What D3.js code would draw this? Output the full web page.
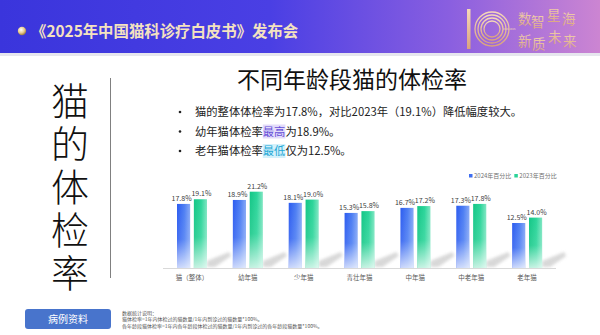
<!DOCTYPE html>
<html>
<head>
<meta charset="utf-8">
<script src="https://cdn.jsdelivr.net/npm/d3@7/dist/d3.min.js"></script>
<style>
  html, body { margin: 0; padding: 0; background: #fff; }
  svg { display: block; }
  text { font-family: "Noto Sans CJK SC", "Noto Sans", sans-serif; }
</style>
</head>
<body>
<svg id="slide" width="600" height="335"></svg>
<script>
// ---- data ----
const categories = ["猫（整体）", "幼年猫", "少年猫", "青壮年猫", "中年猫", "中老年猫", "老年猫"];
const rate2024 = [17.8, 18.9, 18.1, 15.3, 16.7, 17.3, 12.5];
const rate2023 = [19.1, 21.2, 19.0, 15.8, 17.2, 17.8, 14.0];
const seriesNames = ["2024年百分比", "2023年百分比"];
const headerTitle = "《2025年中国猫科诊疗白皮书》发布会";
const chartTitle = "不同年龄段猫的体检率";
const sideTitle = "猫的体检率";
const notes = [
  "数据统计说明：",
  "猫体检率=1年内体检过的猫数量/1年内到诊过的猫数量*100%。",
  "各年龄段猫体检率=1年内各年龄段体检过的猫数量/1年内到诊过的各年龄段猫数量*100%。"
];

const svg = d3.select("#slide");
const defs = svg.append("defs");

// ---- gradients ----
const hdr = defs.append("linearGradient").attr("id", "hdr").attr("x1", 0).attr("x2", 1).attr("y1", 0).attr("y2", 0);
hdr.append("stop").attr("offset", "0%").attr("stop-color", "#3a35dc");
hdr.append("stop").attr("offset", "45%").attr("stop-color", "#4a3fe4");
hdr.append("stop").attr("offset", "75%").attr("stop-color", "#8a5fe0");
hdr.append("stop").attr("offset", "100%").attr("stop-color", "#cc85d2");

function barGrad(id, dark, mid, light) {
  const g = defs.append("linearGradient").attr("id", id).attr("x1", 0).attr("x2", 1).attr("y1", 0).attr("y2", 0);
  g.append("stop").attr("offset", "0%").attr("stop-color", dark);
  g.append("stop").attr("offset", "55%").attr("stop-color", mid);
  g.append("stop").attr("offset", "100%").attr("stop-color", light);
}
barGrad("gBlue", "#2c5cf0", "#4d7ef3", "#86a8f6");
barGrad("gGreen", "#14c686", "#2cd59a", "#7fe6c2");
const fade = defs.append("linearGradient").attr("id", "fade").attr("x1", 0).attr("x2", 0).attr("y1", 0).attr("y2", 1);
fade.append("stop").attr("offset", "0%").attr("stop-color", "#fff").attr("stop-opacity", 0);
fade.append("stop").attr("offset", "55%").attr("stop-color", "#fff").attr("stop-opacity", 0.1);
fade.append("stop").attr("offset", "100%").attr("stop-color", "#fff").attr("stop-opacity", 0.75);

const ball = defs.append("radialGradient").attr("id", "ball").attr("cx", "40%").attr("cy", "35%").attr("r", "65%");
ball.append("stop").attr("offset", "0%").attr("stop-color", "#ffffff");
ball.append("stop").attr("offset", "60%").attr("stop-color", "#e8c98a");
ball.append("stop").attr("offset", "100%").attr("stop-color", "#9a7a40");

const gold = defs.append("linearGradient").attr("id", "gold").attr("x1", 0).attr("x2", 0).attr("y1", 0).attr("y2", 1);
gold.append("stop").attr("offset", "0%").attr("stop-color", "#f6d9b8");
gold.append("stop").attr("offset", "100%").attr("stop-color", "#d9a27e");

defs.append("filter").attr("id", "soft").attr("x", "-50%").attr("y", "-50%").attr("width", "200%").attr("height", "200%")
  .append("feGaussianBlur").attr("stdDeviation", 1.6);

// ---- header band ----
svg.append("rect").attr("x", 0).attr("y", 0).attr("width", 600).attr("height", 53).attr("fill", "url(#hdr)");
svg.append("rect").attr("x", 0).attr("y", 53).attr("width", 600).attr("height", 3).attr("fill", "#e6e6ee");
svg.append("circle").attr("cx", 22).attr("cy", 31).attr("r", 4.2).attr("fill", "url(#ball)");
svg.append("text").attr("x", 31).attr("y", 37).attr("font-size", 15.4).attr("font-weight", 700)
  .attr("fill", "#f4e2c0").text(headerTitle);

// anniversary badge
const logo = svg.append("g");
logo.append("rect").attr("x", 467).attr("y", 9).attr("width", 3.5).attr("height", 40).attr("fill", "url(#gold)");
[17, 14, 11, 8].forEach(r => {
  logo.append("circle").attr("cx", 492).attr("cy", 29).attr("r", r)
    .attr("fill", "none").attr("stroke", "url(#gold)").attr("stroke-width", 1.3);
});
logo.append("text").attr("x", 503).attr("y", 30).attr("font-size", 2.6).attr("fill", "#f2d6b8").text("2015-2025");
[["数", 518, 24], ["智", 531, 27], ["星", 547, 20], ["海", 562, 24],
 ["新", 518, 46], ["质", 532, 49], ["未", 548, 42], ["来", 563, 46]].forEach(([c, x, y]) => {
  logo.append("text").attr("x", x).attr("y", y).attr("font-size", 13.5).attr("fill", "url(#gold)").text(c);
});

// ---- side title (vertical) ----
svg.append("text")
  .attr("x", 70).attr("y", 82)
  .attr("writing-mode", "vertical-rl")
  .style("writing-mode", "vertical-rl")
  .attr("font-size", 38).attr("font-weight", 300).attr("letter-spacing", 5)
  .attr("fill", "#111").text(sideTitle);
svg.append("line").attr("x1", 110.5).attr("x2", 110.5).attr("y1", 78).attr("y2", 278)
  .attr("stroke", "#808080").attr("stroke-width", 1);
svg.append("rect").attr("x", 25).attr("y", 309).attr("width", 86).attr("height", 20).attr("rx", 3)
  .attr("fill", "#4874cc");
svg.append("text").attr("x", 68).attr("y", 319).attr("dy", "0.36em").attr("text-anchor", "middle")
  .attr("font-size", 10).attr("fill", "#fff").text("病例资料");

// ---- heading and bullets ----
svg.append("text").attr("x", 352).attr("y", 80).attr("dy", "0.36em").attr("text-anchor", "middle")
  .attr("font-size", 23).attr("fill", "#111").text(chartTitle);

const bullets = [
  [{t: "猫的整体体检率为17.8%，对比2023年（19.1%）降低幅度较大。"}],
  [{t: "幼年猫体检率"}, {t: "最高", c: "#6650d8", bg: "#e3dcfa"}, {t: "为18.9%。"}],
  [{t: "老年猫体检率"}, {t: "最低", c: "#22a8d6", bg: "#d4f1fb"}, {t: "仅为12.5%。"}]
];
bullets.forEach((parts, i) => {
  const y = 112 + i * 19.5;
  svg.append("circle").attr("cx", 180).attr("cy", y).attr("r", 1.3).attr("fill", "#222");
  const line = svg.append("g");
  let x = 195;
  parts.forEach(p => {
    const t = line.append("text").attr("x", x).attr("y", y).attr("dy", "0.36em")
      .attr("font-size", 11.3).attr("fill", p.c || "#222").text(p.t);
    const w = t.node().getComputedTextLength();
    if (p.bg) {
      line.insert("rect", "text").attr("x", x).attr("y", y - 7).attr("width", w).attr("height", 14).attr("fill", p.bg);
    }
    x += w;
  });
});

// ---- bar chart ----
const base = 268;
const x0 = d3.scaleBand().domain(categories).range([164, 555]).paddingInner(0).paddingOuter(0);
const x1 = d3.scaleBand().domain(seriesNames).range([13, 43]).paddingInner(0.22);
const y = d3.scaleLinear().domain([0, 25]).range([base, base - 90]);

const rows = categories.map((c, i) => ({c, vals: [rate2024[i], rate2023[i]]}));

// cast shadows behind each group
svg.append("g").selectAll("polygon").data(rows).join("polygon")
  .attr("points", d => {
    const gx = x0(d.c) + x1(seriesNames[1]) + x1.bandwidth();
    return [[gx, base - 1], [gx, base - 7], [gx + 22, base - 16], [gx + 24, base - 12], [gx + 8, base - 1]].join(" ");
  })
  .attr("fill", "#d2d2d2").attr("opacity", 0.85).attr("filter", "url(#soft)");

svg.append("line").attr("x1", 163).attr("x2", 556).attr("y1", base + 0.5).attr("y2", base + 0.5)
  .attr("stroke", "#d9d9d9").attr("stroke-width", 1);

const groups = svg.append("g").selectAll("g").data(rows).join("g")
  .attr("transform", d => `translate(${x0(d.c)},0)`);
const cells = groups.selectAll("g").data(d => d.vals.map((v, j) => ({v, s: seriesNames[j], j}))).join("g");
cells.append("rect")
  .attr("x", d => x1(d.s)).attr("width", x1.bandwidth())
  .attr("y", d => y(d.v)).attr("height", d => base - y(d.v))
  .attr("fill", d => d.j === 0 ? "url(#gBlue)" : "url(#gGreen)");
cells.append("rect")
  .attr("x", d => x1(d.s)).attr("width", x1.bandwidth())
  .attr("y", d => y(d.v)).attr("height", d => base - y(d.v))
  .attr("fill", "url(#fade)");
cells.append("text")
  .attr("x", d => x1(d.s) + x1.bandwidth() / 2 + (d.j === 0 ? -2 : 1))
  .attr("y", d => y(d.v) - 3)
  .attr("text-anchor", "middle").attr("font-size", 7).attr("fill", "#404040")
  .text(d => d.v.toFixed(1) + "%");

// category axis labels
const xAxis = svg.append("g").attr("transform", `translate(0,${base})`)
  .call(d3.axisBottom(x0).tickSize(0).tickPadding(7));
xAxis.select(".domain").remove();
xAxis.selectAll("text").attr("font-size", 6.5).attr("fill", "#595959")
  .attr("font-family", "'Noto Sans CJK SC', sans-serif");

// legend
const legend = svg.append("g").attr("transform", "translate(469,176)");
let lx = 0;
seriesNames.forEach((s, j) => {
  legend.append("rect").attr("x", lx).attr("y", -2).attr("width", 3.5).attr("height", 3.5)
    .attr("fill", j === 0 ? "#3f6ef0" : "#2ad398");
  const t = legend.append("text").attr("x", lx + 5).attr("y", 0).attr("dy", "0.35em")
    .attr("font-size", 6).attr("fill", "#707070").text(s);
  lx += 5 + t.node().getComputedTextLength() + 3;
});

// ---- footnote ----
notes.forEach((n, i) => {
  svg.append("text").attr("x", 122).attr("y", 313 + i * 6.5).attr("dy", "0.35em")
    .attr("font-size", 5).attr("fill", "#555").text(n);
});
</script>
</body>
</html>
